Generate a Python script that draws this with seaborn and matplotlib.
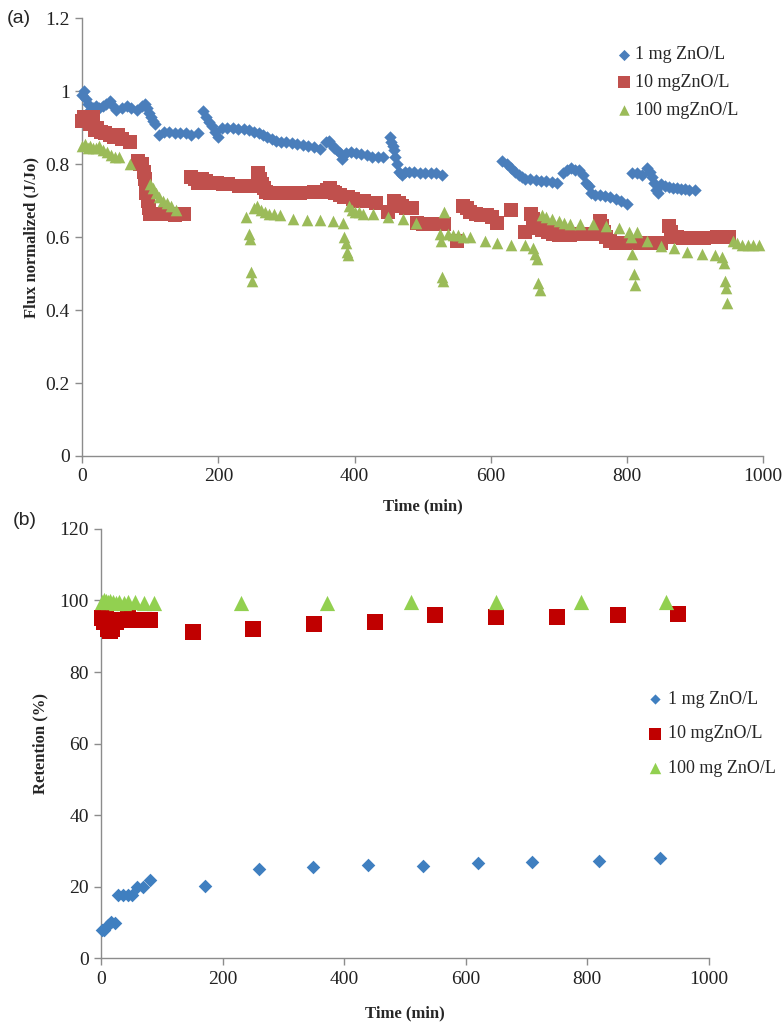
import numpy as np
import pandas as pd
import matplotlib
matplotlib.use("Agg")
import matplotlib.pyplot as plt
from matplotlib.ticker import FuncFormatter
import seaborn as sns

# ---------------- Panel (a): normalized flux ----------------
t_1mg_a = [0, 3, 6, 9, 12, 15, 20, 25, 30, 35, 40, 45, 50, 58, 65, 72, 80, 87, 92, 95, 98, 101, 104, 107,
           112, 120, 128, 136, 144, 152, 160, 170,
           178, 182, 186, 190, 195, 199, 205, 213, 221, 229, 237, 245, 253, 260, 266, 272, 278, 284, 292,
           300, 308, 316, 324, 332, 340, 350, 358, 362, 366, 370, 374, 378, 382, 388, 395, 402, 410, 418,
           426, 434, 442,
           452, 454, 456, 458, 460, 463, 466, 470, 474, 480, 488, 496, 504, 512, 520, 528,
           617, 624, 630, 636, 642, 646, 650, 658, 666, 674, 682, 690, 698,
           706, 712, 718, 724, 730, 736, 740, 744, 748, 754, 760, 768, 776, 784, 792, 800,
           808, 815, 822, 830, 834, 837, 840, 843, 846, 850, 856, 862, 868, 874, 880, 886, 892, 900]
v_1mg_a = [0.99, 1.0, 0.98, 0.965, 0.95, 0.955, 0.96, 0.955, 0.96, 0.965, 0.975, 0.96, 0.95, 0.955, 0.96,
           0.955, 0.95, 0.96, 0.965, 0.955, 0.94, 0.93, 0.92, 0.91,
           0.88, 0.89, 0.89, 0.887, 0.885, 0.885, 0.88, 0.885,
           0.945, 0.93, 0.915, 0.905, 0.89, 0.875, 0.90, 0.90, 0.90, 0.898, 0.897, 0.895, 0.89, 0.885, 0.88,
           0.875, 0.87, 0.865, 0.86, 0.86, 0.858, 0.855, 0.852, 0.85, 0.847, 0.843, 0.86, 0.865, 0.855, 0.845,
           0.84, 0.83, 0.815, 0.83, 0.835, 0.83, 0.828, 0.825, 0.82, 0.82, 0.82,
           0.875, 0.86, 0.85, 0.84, 0.82, 0.80, 0.78, 0.77, 0.78, 0.78, 0.78, 0.775, 0.775, 0.775, 0.775, 0.77,
           0.81, 0.80, 0.79, 0.78, 0.77, 0.765, 0.76, 0.76, 0.758, 0.755, 0.755, 0.752, 0.75,
           0.776, 0.785, 0.79, 0.785, 0.785, 0.77, 0.75, 0.74, 0.72, 0.715, 0.715, 0.712, 0.71, 0.705, 0.70, 0.69,
           0.775, 0.775, 0.77, 0.79, 0.78, 0.765, 0.75, 0.73, 0.72, 0.745, 0.74, 0.738, 0.735, 0.735, 0.733,
           0.732, 0.73, 0.73]

t_10mg_a = [0, 3, 6, 9, 12, 15, 18, 22, 27, 33, 40, 46, 52, 58, 70, 82, 85, 88, 90, 92, 94, 96, 98, 100,
            105, 112, 120, 128, 136, 150,
            160, 165, 170, 176, 182, 190, 198, 206, 214, 230, 248, 258, 261, 264, 267, 270, 276, 284, 292,
            300, 310, 320, 340, 350, 360, 364, 368, 372, 378, 384, 390, 398, 406, 414, 432, 449, 458, 462,
            466, 470, 476, 484, 492, 500, 508, 520, 532, 550, 560, 565, 570, 578, 586, 594, 602, 610, 630,
            650, 660, 663, 666, 670, 676, 684, 692, 700, 708, 716, 731, 750, 760, 763, 766, 770, 776, 784,
            792, 800, 808, 816, 831, 851, 862, 865, 868, 874, 882, 890, 898, 906, 914, 932, 950]
v_10mg_a = [0.92, 0.93, 0.925, 0.92, 0.91, 0.93, 0.895, 0.90, 0.89, 0.885, 0.88, 0.875, 0.88, 0.87, 0.86,
            0.81, 0.80, 0.80, 0.78, 0.76, 0.72, 0.70, 0.68, 0.665, 0.665, 0.665, 0.663, 0.663, 0.662, 0.665,
            0.765, 0.76, 0.75, 0.76, 0.755, 0.75, 0.75, 0.745, 0.745, 0.74, 0.74, 0.775, 0.76, 0.745, 0.735,
            0.725, 0.72, 0.72, 0.72, 0.72, 0.72, 0.72, 0.725, 0.725, 0.73, 0.735, 0.725, 0.72, 0.715, 0.71,
            0.71, 0.705, 0.70, 0.70, 0.695, 0.67, 0.70, 0.69, 0.695, 0.685, 0.68, 0.68, 0.64, 0.635, 0.635,
            0.635, 0.635, 0.59, 0.685, 0.68, 0.67, 0.665, 0.66, 0.66, 0.655, 0.64, 0.675,
            0.615, 0.665, 0.65, 0.635, 0.625, 0.62, 0.615, 0.61, 0.605, 0.605, 0.605, 0.61, 0.61, 0.645, 0.63,
            0.615, 0.60, 0.59, 0.585, 0.585, 0.583, 0.583, 0.585, 0.585, 0.585, 0.63, 0.615, 0.60, 0.60,
            0.598, 0.598, 0.598, 0.598, 0.598, 0.60, 0.60]

t_100mg_a = [0, 4, 8, 12, 16, 20, 25, 30, 36, 42, 48, 54, 70, 100, 104, 108, 112, 118, 124, 130, 138,
             241, 245, 246, 248, 250, 252, 256, 262, 268, 274, 282, 290, 310, 330, 349, 368, 383, 385, 387,
             389, 391, 392, 396, 400, 406, 412, 427, 449, 471, 491, 525, 527, 528, 530, 532, 538, 545, 552,
             560, 570, 591, 610, 630, 650, 662, 665, 668, 670, 672, 675, 682, 690, 700, 708, 716, 731, 750,
             770, 789, 803, 806, 808, 810, 812, 815, 830, 851, 870, 889, 910, 929, 940, 943, 945, 946, 948,
             956, 962, 970, 978, 986, 995]
v_100mg_a = [0.85, 0.855, 0.845, 0.85, 0.845, 0.845, 0.85, 0.84, 0.835, 0.825, 0.82, 0.82, 0.80, 0.745,
             0.735, 0.72, 0.71, 0.70, 0.695, 0.685, 0.675,
             0.655, 0.61, 0.595, 0.505, 0.48, 0.68, 0.685, 0.675, 0.67, 0.665, 0.665, 0.66, 0.65, 0.648,
             0.648, 0.645, 0.64, 0.60, 0.585, 0.56, 0.55, 0.685, 0.675, 0.67, 0.67, 0.665, 0.665, 0.655, 0.65,
             0.64, 0.61, 0.59, 0.49, 0.48, 0.67, 0.61, 0.605, 0.605, 0.60, 0.60, 0.59, 0.585, 0.58, 0.58,
             0.57, 0.555, 0.54, 0.475, 0.455, 0.66, 0.655, 0.65, 0.645, 0.64, 0.635, 0.635, 0.635, 0.63,
             0.625, 0.615, 0.60, 0.555, 0.50, 0.47, 0.615, 0.59, 0.575, 0.57, 0.56, 0.555, 0.55, 0.545, 0.53,
             0.48, 0.46, 0.42, 0.59, 0.585, 0.58, 0.58, 0.58, 0.58]

# ---------------- Panel (b): retention ----------------
t_1mg_b = [1, 5, 12, 17, 23, 28, 36, 44, 50, 59, 69, 81, 171, 260, 349, 440, 530, 620, 709, 819, 919]
v_1mg_b = [7.8, 8.0, 9.2, 10.2, 9.7, 17.6, 17.6, 17.6, 17.6, 20.0, 20.0, 21.8, 20.1, 24.9, 25.5, 26.0, 25.8,
           26.5, 26.9, 27.1, 28.0]
t_10mg_b = [2, 5, 8, 12, 15, 18, 25, 35, 45, 55, 70, 80, 151, 250, 350, 451, 549, 650, 750, 850, 949]
v_10mg_b = [95.0, 94.0, 95.5, 92.0, 91.5, 92.0, 94.0, 94.5, 95.0, 94.5, 94.5, 94.5, 91.3, 92.0, 93.4, 94.1,
            95.8, 95.5, 95.5, 95.8, 96.2]
t_100mg_b = [2, 5, 8, 12, 15, 20, 25, 30, 38, 45, 55, 70, 87, 231, 371, 510, 650, 790, 929]
v_100mg_b = [99.7, 100.0, 99.8, 99.6, 99.9, 99.5, 99.3, 99.6, 99.4, 99.7, 99.5, 99.4, 99.3, 99.3, 99.4,
             99.7, 99.7, 99.7, 99.7]

labels_a = ["1 mg ZnO/L", "10 mgZnO/L", "100 mgZnO/L"]
labels_b = ["1 mg ZnO/L", "10 mgZnO/L", "100 mg ZnO/L"]
x_ticks = [0, 200, 400, 600, 800, 1000]
y_ticks_a = [0, 0.2, 0.4, 0.6, 0.8, 1.0, 1.2]
y_ticks_b = [0, 20, 40, 60, 80, 100, 120]

sns.set_style("white")
plt.rcParams["font.family"] = ["Liberation Serif", "DejaVu Serif"]

fig = plt.figure(figsize=(7.84, 10.27), dpi=100)
ax1 = fig.add_axes([0.105, 0.556, 0.868, 0.426])
ax2 = fig.add_axes([0.129, 0.067, 0.775, 0.418])

spine_c = "#8c8c8c"

def style_axes(ax):
    for s in ["top", "right"]:
        ax.spines[s].set_visible(False)
    for s in ["left", "bottom"]:
        ax.spines[s].set_color(spine_c)
        ax.spines[s].set_linewidth(1.0)
    ax.tick_params(axis="both", direction="out", length=5, width=1.0, color=spine_c,
                   labelsize=14, labelcolor="#222222", left=True, bottom=True, pad=4)
    ax.grid(False)

# Panel (a)
cols_a = ["#4A7EBB", "#C0504D", "#9BBB59"]
sns.scatterplot(x=t_1mg_a, y=v_1mg_a, ax=ax1, marker="D", s=40, color=cols_a[0], linewidth=0,
                label=labels_a[0], clip_on=False, zorder=3)
sns.scatterplot(x=t_10mg_a, y=v_10mg_a, ax=ax1, marker="s", s=95, color=cols_a[1], linewidth=0,
                label=labels_a[1], clip_on=False, zorder=3)
sns.scatterplot(x=t_100mg_a, y=v_100mg_a, ax=ax1, marker="^", s=70, color=cols_a[2], linewidth=0,
                label=labels_a[2], clip_on=False, zorder=3)
ax1.set_xlim(0, 1000)
ax1.set_ylim(0, 1.2)
ax1.set_xticks(x_ticks)
ax1.set_yticks(y_ticks_a)
ax1.yaxis.set_major_formatter(FuncFormatter(lambda v, p: f"{v:g}"))
style_axes(ax1)
ax1.set_xlabel("Time (min)", fontsize=12, fontweight="bold", labelpad=9)
ax1.set_ylabel("Flux normalized (J/Jo)", fontsize=12, fontweight="bold", labelpad=4)
ax1.legend(loc="upper left", bbox_to_anchor=(0.775, 0.962), frameon=False, fontsize=13,
           handletextpad=0.1, labelspacing=0.6, borderaxespad=0, handlelength=1.0,
           markerscale=0.9, bbox_transform=fig.transFigure)

# Panel (b)
cols_b = ["#3F7FC0", "#C00000", "#92D050"]
sns.scatterplot(x=t_1mg_b, y=v_1mg_b, ax=ax2, marker="D", s=48, color=cols_b[0], linewidth=0,
                label=labels_b[0], clip_on=False, zorder=3)
sns.scatterplot(x=t_10mg_b, y=v_10mg_b, ax=ax2, marker="s", s=125, color=cols_b[1], linewidth=0,
                label=labels_b[1], clip_on=False, zorder=3)
sns.scatterplot(x=t_100mg_b, y=v_100mg_b, ax=ax2, marker="^", s=120, color=cols_b[2], linewidth=0,
                label=labels_b[2], clip_on=False, zorder=3)
ax2.set_xlim(0, 1000)
ax2.set_ylim(0, 120)
ax2.set_xticks(x_ticks)
ax2.set_yticks(y_ticks_b)
style_axes(ax2)
ax2.set_xlabel("Time (min)", fontsize=12, fontweight="bold", labelpad=13)
ax2.set_ylabel("Retention (%)", fontsize=12, fontweight="bold", labelpad=8)
ax2.legend(loc="upper left", bbox_to_anchor=(0.815, 0.334), frameon=False, fontsize=13,
           handletextpad=0.2, labelspacing=0.95, borderaxespad=0, handlelength=1.0,
           markerscale=0.75, bbox_transform=fig.transFigure)

fig.text(0.008, 0.990, "(a)", fontsize=14, family=["Liberation Sans", "DejaVu Sans"], va="top", ha="left")
fig.text(0.016, 0.501, "(b)", fontsize=14, family=["Liberation Sans", "DejaVu Sans"], va="top", ha="left")

fig.savefig("out.png", dpi=100)
